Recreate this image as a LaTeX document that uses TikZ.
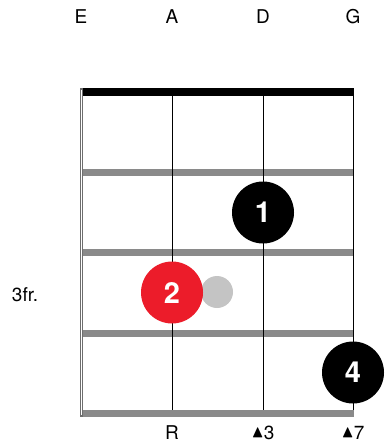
\documentclass[tikz,border=0pt]{standalone}
\usepackage{amssymb}
\usepackage{fontspec}
\setmainfont{TeX Gyre Heros}
\usetikzlibrary{positioning}
\definecolor{fingred}{HTML}{EC1C2A}
\definecolor{fretgray}{HTML}{8A8A8A}
\definecolor{ghostgray}{HTML}{C4C4C4}
\newcommand{\majtri}{\raisebox{2.5pt}{\fontsize{17}{17}\selectfont$\blacktriangle$}}

\begin{document}
\begin{tikzpicture}[x=1pt, y=-1pt,
  lbl/.style={font=\fontsize{19}{19}\selectfont, inner sep=0pt},
  fret/.style={draw=fretgray, line width=6.5pt},
  strg/.style={draw=black, line width=0.9pt},
  fing/.style={circle, fill=black, text=white, minimum size=62pt, inner sep=0pt, font=\fontsize{29}{29}\selectfont\bfseries},
  ghost/.style={circle, fill=ghostgray, minimum size=32pt, inner sep=0pt}
]
\useasboundingbox (0,0) rectangle (385,446);
% string names
\node[lbl] (nameE) at (81,17) {E};
\node[lbl] (nameA) at (172,17) {A};
\node[lbl] (nameD) at (263,17) {D};
\node[lbl] (nameG) at (353,17) {G};
% nut and frets
\fill (81,88) rectangle (354,96);
\draw[fret] (81,172.7) -- (354,172.7);
\draw[fret] (81,252.5) -- (354,252.5);
\draw[fret] (81,333.3) -- (354,333.3);
\draw[fret] (81,413.3) -- (354,413.3);
% strings
\draw[draw=fretgray!80!black, line width=3pt] (81,88) -- (81,417);
\draw[draw=white, line width=0.8pt] (81.3,90) -- (81.3,415);
\draw[strg] (172,96) -- (172,410);
\draw[strg] (263,96) -- (263,410);
\draw[strg] (353,96) -- (353,410);
% fingering
\node[fing] (fing1) at (263,212.5) {1};
\node[ghost] (ghost) at (217,292) {};
\node[fing, fill=fingred] (fing2) at (172,292.5) {2};
\node[fing] (fing4) at (353,372.5) {4};
\node[lbl] (fretno) at (25,295) {3fr.};
% degrees
\node[lbl] (degR) at (172,433) {R};
\node[lbl] (deg3) at (263,433) {\majtri3};
\node[lbl] (deg7) at (353,433) {\majtri7};
\end{tikzpicture}
\end{document}
